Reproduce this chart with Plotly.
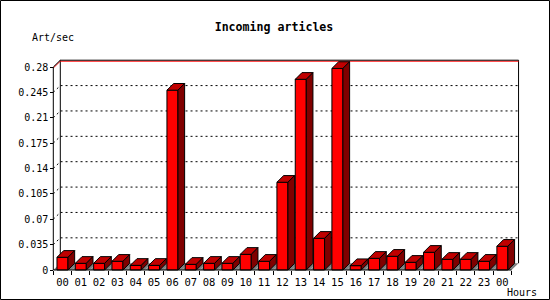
import plotly.graph_objects as go

# ---- data ----
hours = ["00", "01", "02", "03", "04", "05", "06", "07", "08", "09", "10", "11",
         "12", "13", "14", "15", "16", "17", "18", "19", "20", "21", "22", "23", "00"]
rates = [0.0175, 0.0092, 0.0092, 0.0120, 0.0064, 0.0064, 0.2480, 0.0078, 0.0092,
         0.0092, 0.0216, 0.0120, 0.1210, 0.2630, 0.0437, 0.2780, 0.0060, 0.0161,
         0.0189, 0.0106, 0.0244, 0.0147, 0.0147, 0.0120, 0.0327]
y_tickvals = [0, 0.035, 0.07, 0.105, 0.14, 0.175, 0.21, 0.245, 0.28]
y_ticktext = ["0", "0.035", "0.07", "0.105", "0.14", "0.175", "0.21", "0.245", "0.28"]
title_text = "Incoming articles"
y_label = "Art/sec"
x_label = "Hours"

# ---- geometry (pixels) ----
W, H = 550, 300
X0PX, CATPX = 53.3, 18.33      # pixel of left category boundary, px per category
Y0PX, UNITPX = 270.0, 725.0    # pixel of value 0, px per unit
L, R, T, B = 44, 530, 54, 277  # plot area in pixels

n = len(rates)
xr = [-0.5 - (X0PX - L) / CATPX, -0.5 + (R - X0PX) / CATPX]
yr = [-(B - Y0PX) / UNITPX, (Y0PX - T) / UNITPX]

def pxp(px):
    return (px - L) / (R - L)

def pyp(py):
    return (B - py) / (B - T)

dxu, dyu = 7.0 / CATPX, 6.8 / UNITPX      # back plane depth
bdx, bdy = 6.7 / CATPX, 6.7 / UNITPX      # bar depth
half = 0.3
xl, xe = -0.5, n - 0.5
ytop = y_tickvals[-1]

FONT = "DejaVu Sans Mono"

shapes = []
# floor
for i in range(n):
    a, b = i - 0.5, i + 0.5
    shapes.append(dict(type="path", layer="below", xref="x", yref="y",
                       path=f"M{a},0 L{b},0 L{b+dxu},{dyu} L{a+dxu},{dyu} Z",
                       fillcolor="#808080", line=dict(width=0)))
# back plane frame
shapes.append(dict(type="line", layer="below", xref="x", yref="y",
                   x0=xl + dxu, y0=dyu, x1=xl + dxu, y1=ytop + dyu,
                   line=dict(color="black", width=1)))
shapes.append(dict(type="line", layer="below", xref="x", yref="y",
                   x0=xe + dxu, y0=dyu, x1=xe + dxu, y1=ytop + dyu,
                   line=dict(color="black", width=1)))
# grid lines on back plane
for v in y_tickvals[1:-1]:
    shapes.append(dict(type="path", layer="below", xref="x", yref="y",
                       path=f"M{xl},{v} L{xl+dxu},{v+dyu} L{xe+dxu},{v+dyu}",
                       line=dict(color="black", width=1, dash="2px,3px")))
# top edge (black + red)
one = 1.0 / UNITPX
shapes.append(dict(type="path", layer="below", xref="x", yref="y",
                   path=f"M{xl},{ytop-one} L{xl+dxu},{ytop+dyu-one} L{xe+dxu},{ytop+dyu-one}",
                   line=dict(color="#ff0000", width=1)))
shapes.append(dict(type="path", layer="below", xref="x", yref="y",
                   path=f"M{xl},{ytop} L{xl+dxu},{ytop+dyu} L{xe+dxu},{ytop+dyu}",
                   line=dict(color="black", width=1)))
# front axes
shapes.append(dict(type="line", layer="above", xref="x", yref="y",
                   x0=xl, y0=0, x1=xl, y1=ytop, line=dict(color="black", width=1)))
shapes.append(dict(type="line", layer="above", xref="x", yref="y",
                   x0=xl, y0=0, x1=xe, y1=0, line=dict(color="black", width=1)))
# outer frame
shapes.append(dict(type="rect", xref="paper", yref="paper",
                   x0=pxp(0.5), x1=pxp(W - 0.5), y0=pyp(H - 0.5), y1=pyp(0.5),
                   line=dict(color="black", width=1)))

# ---- traces ----
fig = go.Figure()
fig.add_trace(go.Bar(x=list(range(n)), y=rates, width=2 * half,
                     marker=dict(color="#ff0000", line=dict(color="black", width=1)),
                     hoverinfo="skip"))

tx, ty, sx, sy = [], [], [], []
for i, v in enumerate(rates):
    a, b = i - half, i + half
    tx += [a, b, b + bdx, a + bdx, a, None]
    ty += [v, v, v + bdy, v + bdy, v, None]
    sx += [b, b + bdx, b + bdx, b, b, None]
    sy += [0, bdy, v + bdy, v, 0, None]
fig.add_trace(go.Scatter(x=tx, y=ty, mode="lines", fill="toself", fillcolor="#c00000",
                         line=dict(color="black", width=1), hoverinfo="skip"))
fig.add_trace(go.Scatter(x=sx, y=sy, mode="lines", fill="toself", fillcolor="#800000",
                         line=dict(color="black", width=1), hoverinfo="skip"))

fig.update_layout(
    width=W, height=H,
    margin=dict(l=L, r=W - R, t=T, b=H - B, pad=0),
    paper_bgcolor="white", plot_bgcolor="white",
    showlegend=False, hovermode=False,
    shapes=shapes,
    title=dict(text=f"<b>{title_text}</b>", xref="container", yref="container",
               x=274 / W, y=1 - 27 / H, xanchor="center", yanchor="middle",
               font=dict(family=FONT, size=11.6, color="black")),
    xaxis=dict(range=xr, showgrid=False, zeroline=False, showline=False,
               tickmode="array", tickvals=list(range(n)), ticktext=hours,
               ticks="", ticklabelstandoff=4,
               tickfont=dict(family=FONT, size=10.5, color="black"),
               minor=dict(tickmode="array", tickvals=[i - 0.5 for i in range(n + 1)],
                          ticks="outside", ticklen=4, tickcolor="black", tickwidth=1,
                          showgrid=False),
               anchor="free", position=pyp(Y0PX), fixedrange=True),
    yaxis=dict(range=yr, showgrid=False, zeroline=False, showline=False,
               tickmode="array", tickvals=y_tickvals, ticktext=y_ticktext,
               ticks="outside", ticklen=3, tickcolor="black", tickwidth=1,
               tickfont=dict(family=FONT, size=10, color="black"),
               anchor="free", position=pxp(X0PX), fixedrange=True),
    annotations=[
        dict(text=y_label, xref="paper", yref="paper", x=pxp(30), y=pyp(37),
             xanchor="left", yanchor="middle", showarrow=False,
             font=dict(family=FONT, size=10, color="black")),
        dict(text=x_label, xref="paper", yref="paper", x=pxp(505), y=pyp(292),
             xanchor="left", yanchor="middle", showarrow=False,
             font=dict(family=FONT, size=10, color="black")),
    ],
)

fig.write_html("out.html")
